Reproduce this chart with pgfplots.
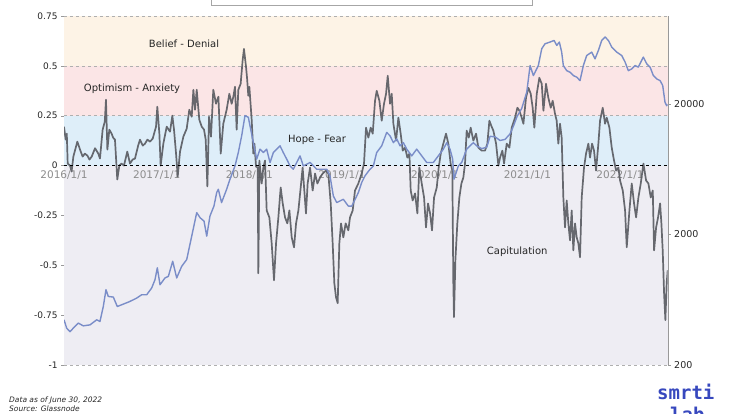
\documentclass[border=0pt]{standalone}
\usepackage{fontspec}
\setmainfont{DejaVu Sans}
\setmonofont{DejaVu Sans Mono}
\usepackage{pgfplots}
\pgfplotsset{compat=1.18}
\definecolor{bandA}{RGB}{253,243,230}
\definecolor{bandB}{RGB}{251,229,230}
\definecolor{bandC}{RGB}{222,238,249}
\definecolor{bandD}{RGB}{238,237,243}
\definecolor{grayline}{RGB}{88,90,96}
\definecolor{blueline}{RGB}{122,141,200}
\definecolor{gridc}{RGB}{175,175,175}
\definecolor{smrtiblue}{RGB}{55,72,190}
\definecolor{xlab}{RGB}{140,140,140}

\begin{document}
\begin{tikzpicture}
\path (0,0) rectangle (739pt,414pt);
\begin{axis}[
  at={(64pt,49pt)}, anchor=south west, scale only axis,
  width=603.7pt, height=349pt,
  xmin=2016, xmax=2022.514, ymin=-1, ymax=0.75,
  axis x line=none, axis y line*=left,
  y axis line style={-, draw=gray!80},
  ytick={-1,-0.75,-0.5,-0.25,0,0.25,0.5,0.75},
  yticklabels={-1,-0.75,-0.5,-0.25,0,0.25,0.5,0.75},
  ytick style={draw=gray!80}, tick align=outside, major tick length=3pt,
  yticklabel style={font=\fontsize{9}{9}\selectfont, text=black!85},
  clip mode=individual,
]
\fill[bandA] (axis cs:2016,0.5) rectangle (axis cs:2022.514,0.75);
\fill[bandB] (axis cs:2016,0.25) rectangle (axis cs:2022.514,0.5);
\fill[bandC] (axis cs:2016,0) rectangle (axis cs:2022.514,0.25);
\fill[bandD] (axis cs:2016,-1) rectangle (axis cs:2022.514,0);
\draw[gridc, dashed, line width=0.5pt] (axis cs:2016,0.75) -- (axis cs:2022.514,0.75);
\draw[gridc, dashed, line width=0.5pt] (axis cs:2016,0.5) -- (axis cs:2022.514,0.5);
\draw[gridc, dashed, line width=0.5pt] (axis cs:2016,0.25) -- (axis cs:2022.514,0.25);
\draw[gridc, dashed, line width=0.5pt] (axis cs:2016,-1) -- (axis cs:2022.514,-1);
\node[font=\fontsize{10}{10}\selectfont, text=black!85] at (axis cs:2017.295,0.61) {Belief - Denial};
\node[font=\fontsize{10}{10}\selectfont, text=black!85] at (axis cs:2016.734,0.385) {Optimism - Anxiety};
\node[font=\fontsize{10}{10}\selectfont, text=black!85] at (axis cs:2018.73,0.13) {Hope - Fear};
\node[font=\fontsize{10}{10}\selectfont, text=black!85] at (axis cs:2020.89,-0.43) {Capitulation};
\node[anchor=north, yshift=-3pt, inner sep=2pt, font=\fontsize{10.5}{10.5}\selectfont, text=xlab] at (axis cs:2016,0) {2016/1/1};
\node[anchor=north, yshift=-3pt, inner sep=2pt, font=\fontsize{10.5}{10.5}\selectfont, text=xlab] at (axis cs:2017,0) {2017/1/1};
\node[anchor=north, yshift=-3pt, inner sep=2pt, font=\fontsize{10.5}{10.5}\selectfont, text=xlab] at (axis cs:2018,0) {2018/1/1};
\node[anchor=north, yshift=-3pt, inner sep=2pt, font=\fontsize{10.5}{10.5}\selectfont, text=xlab] at (axis cs:2019,0) {2019/1/1};
\node[anchor=north, yshift=-3pt, inner sep=2pt, font=\fontsize{10.5}{10.5}\selectfont, text=xlab] at (axis cs:2020,0) {2020/1/1};
\node[anchor=north, yshift=-3pt, inner sep=2pt, font=\fontsize{10.5}{10.5}\selectfont, text=xlab] at (axis cs:2021,0) {2021/1/1};
\node[anchor=north, yshift=-3pt, inner sep=2pt, font=\fontsize{10.5}{10.5}\selectfont, text=xlab] at (axis cs:2022,0) {2022/1/1};
\addplot[grayline, opacity=0.9, line width=1.7pt, line join=round] table {
2016.000 0.195
2016.018 0.13
2016.030 0.16
2016.040 0.01
2016.065 0.0
2016.082 -0.03
2016.101 0.045
2016.144 0.12
2016.173 0.08
2016.201 0.045
2016.225 0.06
2016.252 0.05
2016.275 0.03
2016.299 0.045
2016.335 0.087
2016.370 0.06
2016.388 0.035
2016.417 0.18
2016.440 0.22
2016.453 0.33
2016.468 0.08
2016.489 0.18
2016.514 0.16
2016.530 0.14
2016.550 0.13
2016.575 -0.07
2016.597 0.0
2016.620 0.01
2016.647 0.0
2016.683 0.07
2016.712 0.01
2016.740 0.03
2016.766 0.035
2016.800 0.1
2016.820 0.13
2016.850 0.10
2016.874 0.11
2016.900 0.13
2016.928 0.12
2016.957 0.135
2016.993 0.195
2017.007 0.295
2017.029 0.16
2017.043 0.0
2017.072 0.11
2017.108 0.195
2017.144 0.17
2017.169 0.25
2017.187 0.18
2017.209 0.06
2017.227 -0.055
2017.252 0.07
2017.288 0.145
2017.324 0.185
2017.352 0.28
2017.378 0.245
2017.396 0.38
2017.414 0.28
2017.432 0.38
2017.460 0.23
2017.486 0.195
2017.511 0.18
2017.529 0.13
2017.547 -0.105
2017.565 0.245
2017.586 0.145
2017.611 0.38
2017.640 0.31
2017.666 0.345
2017.691 0.06
2017.719 0.21
2017.755 0.28
2017.784 0.36
2017.809 0.31
2017.827 0.345
2017.845 0.395
2017.863 0.18
2017.881 0.38
2017.906 0.41
2017.928 0.53
2017.942 0.585
2017.964 0.495
2017.975 0.44
2017.989 0.35
2018.000 0.395
2018.025 0.23
2018.043 0.06
2018.055 0.11
2018.072 -0.005
2018.090 -0.01
2018.097 -0.54
2018.108 0.025
2018.133 -0.09
2018.151 -0.01
2018.169 0.025
2018.187 -0.225
2018.216 -0.26
2018.241 -0.39
2018.266 -0.575
2018.288 -0.39
2018.313 -0.26
2018.338 -0.11
2018.360 -0.19
2018.385 -0.26
2018.410 -0.29
2018.432 -0.225
2018.457 -0.36
2018.482 -0.41
2018.504 -0.29
2018.529 -0.225
2018.554 -0.11
2018.575 -0.01
2018.593 -0.125
2018.611 -0.24
2018.629 -0.09
2018.655 -0.01
2018.683 -0.125
2018.709 -0.04
2018.734 -0.09
2018.763 -0.06
2018.791 -0.04
2018.827 -0.025
2018.852 -0.04
2018.878 -0.19
2018.899 -0.39
2018.917 -0.59
2018.935 -0.66
2018.953 -0.69
2018.971 -0.39
2018.989 -0.29
2019.014 -0.36
2019.039 -0.29
2019.068 -0.325
2019.086 -0.26
2019.115 -0.225
2019.140 -0.125
2019.176 -0.09
2019.212 -0.04
2019.237 0.01
2019.259 0.19
2019.284 0.14
2019.309 0.19
2019.331 0.16
2019.356 0.325
2019.374 0.375
2019.403 0.325
2019.428 0.225
2019.453 0.31
2019.475 0.36
2019.493 0.45
2019.518 0.31
2019.536 0.36
2019.554 0.21
2019.583 0.125
2019.608 0.24
2019.633 0.16
2019.655 0.075
2019.680 0.09
2019.705 0.04
2019.727 0.06
2019.741 -0.125
2019.762 -0.175
2019.788 -0.14
2019.813 -0.24
2019.834 -0.01
2019.860 -0.09
2019.885 -0.16
2019.906 -0.31
2019.928 -0.19
2019.950 -0.24
2019.971 -0.325
2019.993 -0.16
2020.022 -0.11
2020.043 -0.01
2020.065 0.06
2020.093 0.11
2020.122 0.16
2020.147 0.11
2020.172 0.01
2020.190 -0.025
2020.201 -0.59
2020.208 -0.76
2020.223 -0.475
2020.244 -0.29
2020.266 -0.16
2020.288 -0.09
2020.309 -0.06
2020.327 0.01
2020.345 0.175
2020.367 0.14
2020.388 0.19
2020.417 0.125
2020.446 0.16
2020.471 0.09
2020.507 0.075
2020.543 0.075
2020.568 0.11
2020.590 0.225
2020.610 0.2
2020.633 0.175
2020.662 0.11
2020.687 0.0
2020.705 0.04
2020.730 0.075
2020.748 0.01
2020.777 0.11
2020.806 0.09
2020.831 0.19
2020.867 0.24
2020.892 0.29
2020.914 0.275
2020.939 0.24
2020.957 0.21
2020.985 0.34
2021.011 0.39
2021.036 0.36
2021.057 0.29
2021.075 0.19
2021.101 0.36
2021.129 0.44
2021.155 0.41
2021.173 0.275
2021.201 0.41
2021.226 0.34
2021.252 0.29
2021.273 0.325
2021.298 0.26
2021.316 0.225
2021.334 0.11
2021.352 0.21
2021.370 0.14
2021.388 -0.16
2021.406 -0.31
2021.424 -0.175
2021.442 -0.29
2021.460 -0.375
2021.478 -0.225
2021.496 -0.425
2021.514 -0.29
2021.532 -0.36
2021.550 -0.39
2021.568 -0.46
2021.586 -0.16
2021.611 -0.01
2021.633 0.06
2021.658 0.11
2021.676 0.04
2021.698 0.11
2021.719 0.075
2021.741 -0.025
2021.766 0.11
2021.784 0.225
2021.813 0.29
2021.838 0.21
2021.856 0.24
2021.885 0.19
2021.910 0.09
2021.935 0.025
2021.957 -0.025
2021.982 -0.01
2022.000 -0.075
2022.029 -0.125
2022.054 -0.225
2022.072 -0.41
2022.101 -0.225
2022.126 -0.09
2022.151 -0.19
2022.173 -0.26
2022.198 -0.16
2022.223 -0.09
2022.252 0.01
2022.281 -0.075
2022.306 -0.09
2022.331 -0.16
2022.353 -0.125
2022.367 -0.425
2022.389 -0.31
2022.410 -0.26
2022.432 -0.19
2022.446 -0.29
2022.460 -0.425
2022.475 -0.64
2022.489 -0.775
2022.503 -0.59
2022.514 -0.525
};
\draw[black, dashed, line width=0.7pt] (axis cs:2016,0) -- (axis cs:2022.514,0);
\end{axis}
\begin{axis}[
  at={(64pt,49pt)}, anchor=south west, scale only axis,
  width=603.7pt, height=349pt,
  xmin=2016, xmax=2022.514, ymode=log, ymin=200, ymax=94400,
  axis x line=none, axis y line*=right,
  y axis line style={-, draw=gray!80},
  ytick={200,2000,20000}, yticklabels={200,2000,20000}, yminorticks=false,
  ytick style={draw=gray!80}, tick align=outside, major tick length=3pt,
  yticklabel style={font=\fontsize{9.5}{9.5}\selectfont, text=black!85},
]
\addplot[blueline, line width=1.4pt, line join=round] table {
2016.000 444
2016.029 383
2016.065 360
2016.100 383
2016.154 419
2016.208 399
2016.281 406
2016.353 444
2016.388 431
2016.424 561
2016.453 755
2016.478 670
2016.532 663
2016.575 561
2016.623 579
2016.712 614
2016.784 651
2016.838 690
2016.892 690
2016.946 778
2016.982 902
2017.007 1110
2017.036 824
2017.090 929
2017.126 955
2017.173 1247
2017.216 929
2017.270 1140
2017.324 1285
2017.378 1941
2017.432 2940
2017.468 2690
2017.511 2530
2017.540 1941
2017.575 2770
2017.618 3300
2017.648 4200
2017.665 4440
2017.700 3510
2017.755 4440
2017.791 5300
2017.845 6700
2017.881 8490
2017.917 11400
2017.953 16300
2017.989 15800
2018.007 13600
2018.043 10100
2018.079 7550
2018.115 9010
2018.151 8490
2018.187 9010
2018.223 7120
2018.259 8490
2018.331 9550
2018.366 8490
2018.403 7550
2018.439 6700
2018.474 6320
2018.547 8000
2018.582 6700
2018.655 7120
2018.727 6320
2018.835 6320
2018.870 5630
2018.906 3950
2018.943 3510
2019.014 3720
2019.068 3300
2019.105 3300
2019.140 3700
2019.176 4190
2019.212 5000
2019.248 5630
2019.302 6320
2019.338 6700
2019.374 8490
2019.428 9550
2019.482 12100
2019.518 11400
2019.554 10100
2019.590 10800
2019.626 9550
2019.662 10100
2019.698 9010
2019.752 8000
2019.806 9010
2019.860 8000
2019.914 7120
2019.985 7120
2020.039 8000
2020.093 9010
2020.130 10100
2020.165 9010
2020.194 7550
2020.208 5300
2020.255 6700
2020.291 7120
2020.345 9010
2020.381 9550
2020.417 10100
2020.453 9550
2020.507 9100
2020.561 9300
2020.597 11300
2020.651 11200
2020.705 10500
2020.759 10700
2020.813 11800
2020.849 13500
2020.888 16000
2020.939 18500
2020.993 24600
2021.029 39400
2021.065 33000
2021.118 39400
2021.155 53000
2021.190 57800
2021.244 59600
2021.288 61300
2021.317 56200
2021.345 59600
2021.370 49900
2021.388 39400
2021.424 36000
2021.460 35000
2021.496 33000
2021.532 32100
2021.568 30200
2021.604 39400
2021.640 47000
2021.694 49900
2021.730 44300
2021.766 51400
2021.802 61300
2021.838 65200
2021.874 61300
2021.910 54600
2021.964 49900
2022.018 47000
2022.054 41900
2022.089 36000
2022.126 37100
2022.162 39400
2022.197 38300
2022.251 45700
2022.288 40600
2022.324 38300
2022.359 33000
2022.396 31100
2022.432 30200
2022.460 27700
2022.485 20600
2022.503 19400
2022.514 19800
};
\end{axis}
\draw[overlay, gray!70, line width=0.6pt, fill=white] (211pt,409pt) rectangle (532pt,440pt);
\node[anchor=base west, inner sep=0pt, font=\fontsize{7.5}{7.5}\selectfont\itshape, text=black!85] at (9pt,11.5pt) {Data as of June 30, 2022};
\node[overlay, anchor=base west, inner sep=0pt, font=\fontsize{7.5}{7.5}\selectfont\itshape, text=black!85] at (9pt,2pt) {Source: Glassnode};
\node[anchor=base west, inner sep=0pt, font=\fontsize{19}{19}\ttfamily\bfseries, text=smrtiblue] at (657pt,14pt) {smrti};
\node[overlay, anchor=base west, inner sep=0pt, font=\fontsize{19}{19}\ttfamily\bfseries, text=smrtiblue] at (670pt,-8pt) {lab};
\end{tikzpicture}
\end{document}
